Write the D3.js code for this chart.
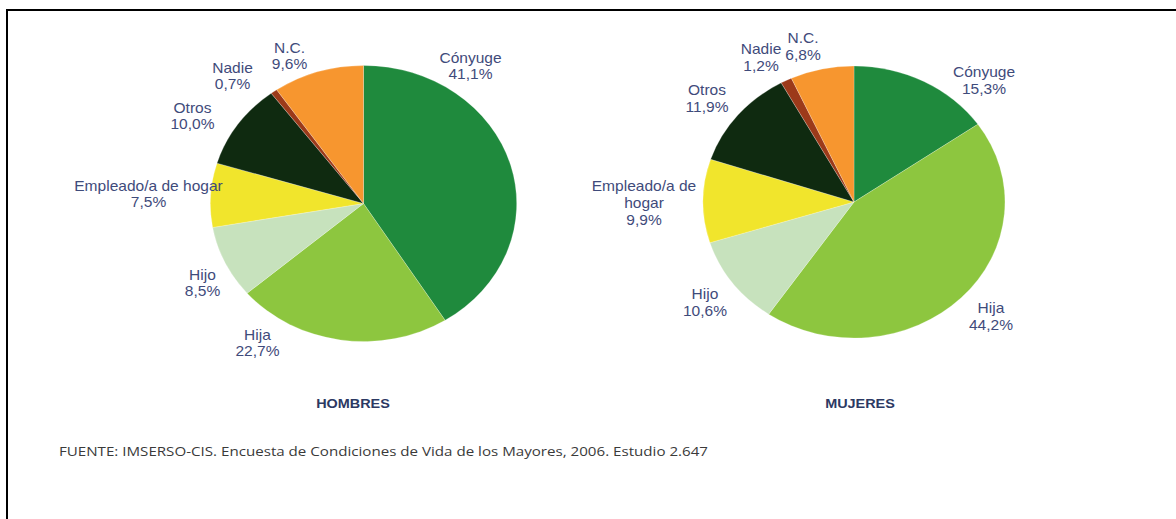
<!DOCTYPE html>
<html>
<head>
<meta charset="utf-8">
<script src="https://cdn.jsdelivr.net/npm/d3@7/dist/d3.min.js"></script>
<style>
  html, body { margin: 0; padding: 0; background: #fff; }
  svg { display: block; }
</style>
</head>
<body>
<svg id="chart" width="1176" height="519"></svg>
<script>
// ---- data ----
const categories = ["Cónyuge", "Hija", "Hijo", "Empleado/a de hogar", "Otros", "Nadie", "N.C."];
const hombresValues = [41.1, 22.7, 8.5, 7.5, 10.0, 0.7, 9.6];
const mujeresValues = [15.3, 44.2, 10.6, 9.9, 11.9, 1.2, 6.8];
const hombresLabelLines = [["Cónyuge"], ["Hija"], ["Hijo"], ["Empleado/a de hogar"], ["Otros"], ["Nadie"], ["N.C."]];
const mujeresLabelLines = [["Cónyuge"], ["Hija"], ["Hijo"], ["Empleado/a de", "hogar"], ["Otros"], ["Nadie"], ["N.C."]];
const pieTitles = ["HOMBRES", "MUJERES"];
const sourceText = "FUENTE: IMSERSO-CIS. Encuesta de Condiciones de Vida de los Mayores, 2006. Estudio 2.647";

// ---- style / layout ----
const colors = ["#1f8a3d", "#8dc63f", "#c7e2bd", "#f1e52c", "#0f2a10", "#9c3a1a", "#f7962f"];
const labelColor = "#3f4b7b";
const titleColor = "#2c3963";
const stretch = 1.11;
const pies = [
  { cx: 363.5, cy: 203.5, r: 138, values: hombresValues, lines: hombresLabelLines, title: pieTitles[0], titleX: 353,
    labelOffsets: [[107, -146], [-106, 131], [-161, 71], [-215, -18], [-171, -96], [-131, -136], [-74, -156]] },
  { cx: 854, cy: 202, r: 136, values: mujeresValues, lines: mujeresLabelLines, title: pieTitles[1], titleX: 860,
    labelOffsets: [[130, -130], [137, 106], [-149, 92], [-210, -16], [-147, -112], [-93, -153], [-51, -164]] }
];

const locale = d3.formatLocale({ decimal: ",", thousands: ".", grouping: [3], currency: ["", "€"] });
const fmt = locale.format(".1f");

const svg = d3.select("#chart");

// frame lines (top and left, as in the reference)
svg.append("line").attr("x1", 6).attr("x2", 1176).attr("y1", 10).attr("y2", 10)
  .attr("stroke", "#000").attr("stroke-width", 2);
svg.append("line").attr("x1", 7).attr("x2", 7).attr("y1", 9).attr("y2", 519)
  .attr("stroke", "#000").attr("stroke-width", 2);

const color = d3.scaleOrdinal().domain(categories).range(colors);
const pie = d3.pie().sort(null).value(d => d.value);

pies.forEach(p => {
  const data = categories.map((c, i) => ({ cat: c, value: p.values[i], i }));
  const arcs = pie(data);
  const arc = d3.arc().innerRadius(0).outerRadius(p.r);

  const g = svg.append("g").attr("transform", `translate(${p.cx},${p.cy}) scale(${stretch},1)`);
  g.selectAll("path").data(arcs).join("path")
    .attr("d", arc)
    .attr("fill", d => color(d.data.cat))
    .attr("stroke", "rgba(255,255,255,0.35)")
    .attr("stroke-width", 0.6);

  // labels
  const lg = svg.append("g").attr("transform", `translate(${p.cx},${p.cy})`);
  arcs.forEach((d, i) => {
    const [ox, oy] = p.labelOffsets[i];
    const lines = p.lines[i].concat([fmt(d.data.value) + "%"]);
    const t = lg.append("text")
      .attr("transform", `translate(${ox},${oy + 5}) scale(${stretch},1)`)
      .attr("text-anchor", "middle")
      .attr("font-family", "'Liberation Sans', Arial, sans-serif")
      .attr("font-size", 14)
      .attr("fill", labelColor);
    lines.forEach((ln, k) => {
      t.append("tspan").attr("x", 0).attr("y", k * 17).text(ln);
    });
  });

  // title
  svg.append("text")
    .attr("transform", `translate(${p.titleX},${408}) scale(${stretch},1)`)
    .attr("text-anchor", "middle")
    .attr("font-family", "'Liberation Sans', Arial, sans-serif")
    .attr("font-weight", "bold")
    .attr("font-size", 13)
    .attr("fill", titleColor)
    .text(p.title);
});

// source
svg.append("text")
  .attr("x", 59).attr("y", 456)
  .attr("font-family", "'Open Sans', 'Noto Sans', sans-serif")
  .attr("font-size", 13)
  .attr("fill", "#3a3a3a")
  .attr("textLength", 649)
  .attr("lengthAdjust", "spacingAndGlyphs")
  .text(sourceText);
</script>
</body>
</html>
